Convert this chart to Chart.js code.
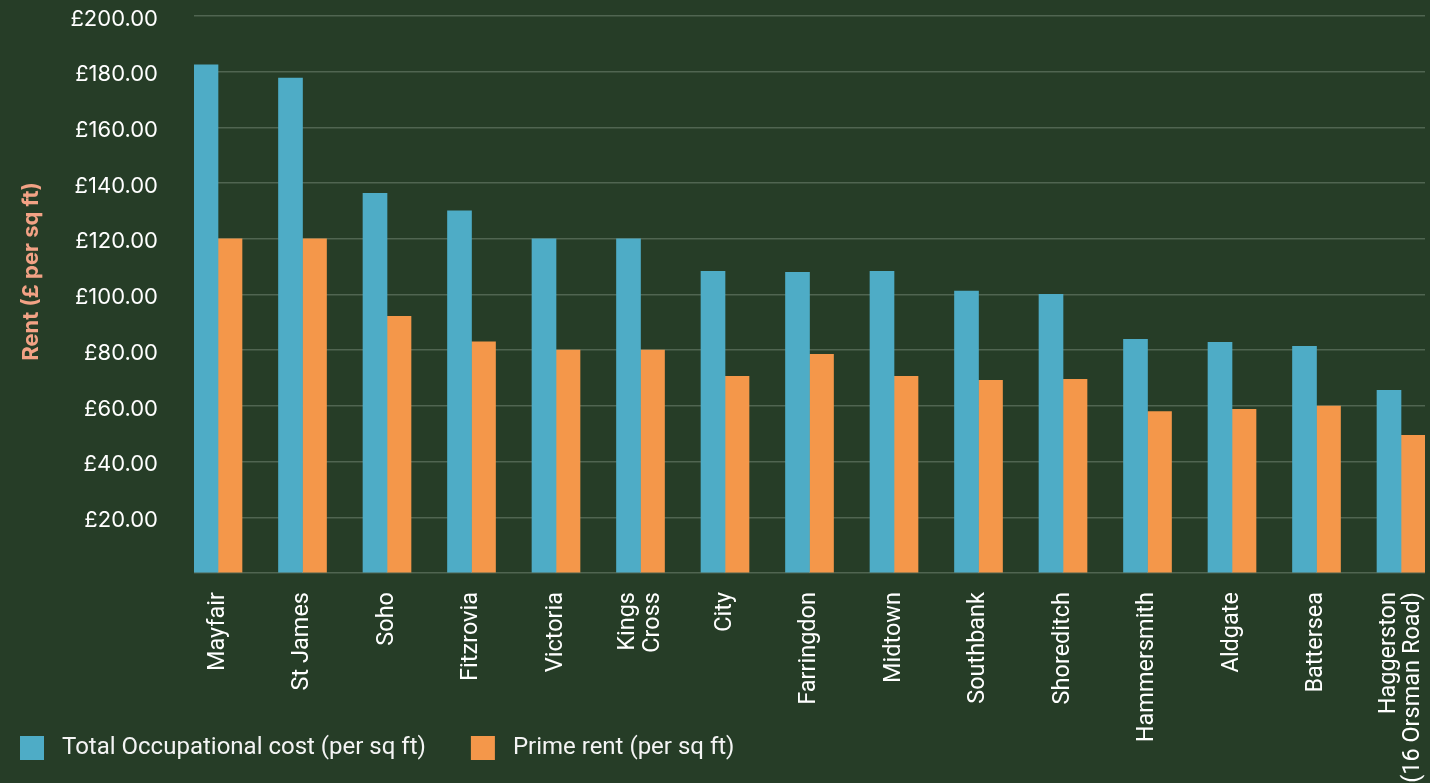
<!DOCTYPE html>
<html>
<head>
<meta charset="utf-8">
<script src="https://cdn.jsdelivr.net/npm/chart.js@4"></script>
<style>
  html, body { margin: 0; padding: 0; background: #263d27; }
  #wrap { width: 1430px; height: 783px; }
</style>
</head>
<body>
<div id="wrap"><canvas id="c" width="1430" height="783"></canvas></div>
<script>
const categories = ['Mayfair', 'St James', 'Soho', 'Fitzrovia', 'Victoria', ['Kings', 'Cross'], 'City', 'Farringdon', 'Midtown', 'Southbank', 'Shoreditch', 'Hammersmith', 'Aldgate', 'Battersea', ['Haggerston', '(16 Orsman Road)']];
const totalOccupationalCost = [182.5, 177.7, 136.3, 130.0, 120.0, 120.0, 108.3, 108.0, 108.3, 101.2, 100.1, 83.9, 82.8, 81.4, 65.6];
const primeRent = [120.0, 120.0, 92.2, 83.0, 80.0, 80.0, 70.6, 78.5, 70.6, 69.2, 69.5, 58.0, 58.8, 59.9, 49.4];
const seriesLabels = ['Total Occupational cost (per sq ft)', 'Prime rent (per sq ft)'];
const yTitle = 'Rent (£ per sq ft)';

const BG = '#263d27';
const BLUE = '#4eacc6';
const ORANGE = '#f4974a';
const X_FONT_SIZE = 23.5;
const X_LINE_HEIGHT = 1.05;

const bgPlugin = {
  id: 'bg',
  beforeDraw(chart) {
    const ctx = chart.ctx;
    ctx.save();
    ctx.fillStyle = BG;
    ctx.fillRect(0, 0, chart.width, chart.height);
    ctx.restore();
  }
};

const extrasPlugin = {
  id: 'extras',
  afterDraw(chart) {
    const ctx = chart.ctx;
    // y axis title
    ctx.save();
    ctx.translate(31.5, 271.5);
    ctx.rotate(-Math.PI / 2);
    ctx.font = 'bold 22px Inter';
    ctx.fillStyle = '#f2a285';
    ctx.textAlign = 'center';
    ctx.textBaseline = 'middle';
    ctx.fillText(yTitle, 0, 0);
    ctx.restore();
    // legend
    const items = chart.data.datasets.map(d => ({ text: d.label, color: d.backgroundColor }));
    let x = 20;
    const yMid = 748;
    ctx.save();
    ctx.font = '24px Roboto';
    ctx.textAlign = 'left';
    ctx.textBaseline = 'middle';
    items.forEach(it => {
      ctx.fillStyle = it.color;
      ctx.fillRect(x, yMid - 12, 24, 24);
      ctx.fillStyle = '#f4f4f4';
      ctx.fillText(it.text, x + 42, yMid);
      const w = ctx.measureText(it.text).width;
      x += 42 + w + 45;
    });
    ctx.restore();
  }
};

new Chart(document.getElementById('c'), {
  type: 'bar',
  data: {
    datasets: [
      {
        label: seriesLabels[0],
        data: totalOccupationalCost.map((v, i) => ({ x: i, y: v })),
        backgroundColor: BLUE
      },
      {
        label: seriesLabels[1],
        data: primeRent.map((v, i) => ({ x: i, y: v })),
        backgroundColor: ORANGE
      }
    ]
  },
  options: {
    responsive: false,
    animation: false,
    devicePixelRatio: 1,
    barThickness: 24,
    layout: { padding: { top: 16, right: 5, bottom: 0, left: 0 } },
    plugins: {
      legend: { display: false },
      tooltip: { enabled: false },
      title: { display: false }
    },
    scales: {
      x: {
        type: 'linear',
        offset: false,
        min: -0.284,
        max: 14.284,
        grid: { display: false, drawTicks: false, offset: false },
        border: { display: false },
        afterBuildTicks(scale) {
          // centre multi-line rotated labels on their category
          const pxPerUnit = scale.width > 0 ? scale.width / (scale.max - scale.min) : 84.5;
          const lh = X_FONT_SIZE * X_LINE_HEIGHT;
          scale.ticks = categories.map((c, i) => {
            const lines = Array.isArray(c) ? c.length : 1;
            return { value: i - ((lines - 1) * lh / 2) / pxPerUnit, idx: i };
          });
        },
        afterFit(scale) {
          scale.height = 210;
          scale.paddingLeft = 0;
          scale.paddingRight = 0;
        },
        ticks: {
          autoSkip: false,
          minRotation: 90,
          maxRotation: 90,
          padding: 19,
          color: '#ffffff',
          font: { family: 'Roboto', size: X_FONT_SIZE, lineHeight: X_LINE_HEIGHT },
          callback(value, index) {
            return categories[index] !== undefined ? categories[index] : '';
          }
        }
      },
      y: {
        min: 0,
        max: 200,
        grid: { color: 'rgba(190,205,190,0.28)', lineWidth: 1.5, drawTicks: false },
        border: { display: false },
        afterFit(scale) {
          scale.width = 194;
          scale.paddingTop = 0;
          scale.paddingBottom = 0;
        },
        ticks: {
          stepSize: 20,
          padding: 36,
          labelOffset: 3,
          color: '#ffffff',
          font: { family: 'Inter', size: 22 },
          callback(value) {
            return value === 0 ? '' : '£' + Number(value).toFixed(2);
          }
        }
      }
    }
  },
  plugins: [bgPlugin, extrasPlugin]
});
</script>
</body>
</html>
